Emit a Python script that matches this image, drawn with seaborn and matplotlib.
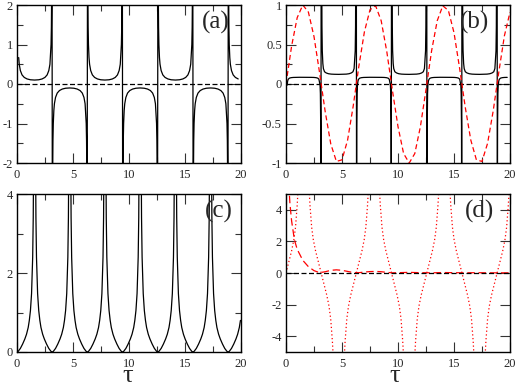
import numpy as np
import seaborn as sns
from matplotlib import pyplot as plt
from matplotlib.ticker import MultipleLocator

# ---- data ----
# singular points (multiples of pi) for panels (a) and (b)
poles_ab = [0.0, 3.14, 6.28, 9.42, 12.57, 15.71, 18.85]

# (a) one branch between two poles: offset from left pole -> |value|
a_dx = [0.02, 0.04, 0.07, 0.10, 0.15, 0.20, 0.30, 0.45, 0.65, 0.90, 1.20, 1.57,
        1.94, 2.24, 2.49, 2.69, 2.84, 2.94, 3.04, 3.07, 3.10, 3.12]
a_val = [5.0, 2.5, 1.43, 1.0, 0.67, 0.50, 0.34, 0.23, 0.166, 0.128, 0.107, 0.100,
         0.107, 0.128, 0.166, 0.23, 0.34, 0.50, 1.0, 1.43, 2.5, 5.0]
a_sign = [1, -1, 1, -1, 1, -1, 1]

# (b) black curve: lower and upper branch shapes
b_dx = a_dx
b_low = [-2.4, -0.54, -0.12, -0.015, 0.04, 0.06, 0.074, 0.08, 0.083, 0.084, 0.085, 0.085,
         0.085, 0.084, 0.083, 0.08, 0.074, 0.06, -0.015, -0.12, -0.54, -2.4]
b_up = [7.6, 2.0, 0.73, 0.42, 0.26, 0.195, 0.155, 0.14, 0.13, 0.125, 0.123, 0.122,
        0.123, 0.125, 0.13, 0.14, 0.155, 0.195, 0.42, 0.73, 2.0, 7.6]
b_kind = ["low", "up", "low", "up", "low", "up", "low"]

# (b) red dashed curve
b_red_x = [0.5 * i for i in range(41)]
b_red_y = [0.00, 0.48, 0.84, 1.00, 0.91, 0.60, 0.14, -0.35, -0.76, -0.98, -0.96,
           -0.71, -0.28, 0.22, 0.66, 0.94, 0.99, 0.80, 0.41, -0.08, -0.54, -0.88,
           -1.00, -0.88, -0.54, -0.07, 0.42, 0.80, 0.99, 0.93, 0.65, 0.20, -0.29,
           -0.71, -0.96, -0.98, -0.75, -0.34, 0.15, 0.61, 0.91]

# (c) and (d): centres of the branches
centres_cd = [0.0, 3.14, 6.28, 9.42, 12.57, 15.71, 18.85]
cd_dx = [-1.555, -1.53, -1.5, -1.45, -1.4, -1.3, -1.2, -1.1, -1.0, -0.85, -0.7, -0.5,
         -0.3, -0.1, 0.0, 0.1, 0.3, 0.5, 0.7, 0.85, 1.0, 1.1, 1.2, 1.3, 1.4, 1.45,
         1.5, 1.53, 1.555]
c_val = [26, 10, 5.8, 3.4, 2.4, 1.48, 1.05, 0.8, 0.62, 0.45, 0.33, 0.2,
         0.09, 0.015, 0.0, 0.015, 0.09, 0.2, 0.33, 0.45, 0.62, 0.8, 1.05, 1.48, 2.4, 3.4,
         5.8, 10, 26]

# (d) red dotted curve (odd shape, sign alternates)
d_dot = [-200, -100, -60, -30, -20, -11, -7.5, -5.6, -4.3, -2.9, -2.1, -1.4,
         -0.85, -0.28, 0.0, 0.28, 0.85, 1.4, 2.1, 2.9, 4.3, 5.6, 7.5, 11, 20, 30, 60, 100, 200]
d_sign = [1, -1, 1, -1, 1, -1, 1]

# (d) red dashed decaying curve
d_dash_x = [0.25, 0.35, 0.5, 0.75, 1.0, 1.5, 2.0, 2.5, 3.0, 3.5, 4.0, 4.5, 5.0, 5.5,
            6.0, 6.5, 7.0, 7.5, 8.0, 8.5, 9.0, 9.5, 10, 11, 12, 13, 14, 15, 16,
            17, 18, 19, 20]
d_dash_y = [5.6, 4.4, 3.3, 2.1, 1.5, 0.8, 0.4, 0.15, 0.02, 0.08, 0.17, 0.2, 0.17, 0.1,
            0.03, 0.02, 0.06, 0.09, 0.1, 0.08, 0.04, 0.01, 0.02, 0.04, 0.02, 0.01,
            0.03, 0.02, 0.01, 0.02, 0.01, 0.01, 0.01]


def build(starts, dx, shapes, signs, xmin, xmax):
    xs, ys = [], []
    for p, shape, s in zip(starts, shapes, signs):
        for d, v in zip(dx, shape):
            x = p + d
            if xmin <= x <= xmax:
                xs.append(x)
                ys.append(s * v)
    return xs, ys


a_x, a_y = build(poles_ab, a_dx, [a_val] * 7, a_sign, 0.15, 20)
b_shapes = [b_low if k == "low" else b_up for k in b_kind]
b_x, b_y = build(poles_ab, b_dx, b_shapes, [1] * 7, 0.1, 20)
c_x, c_y = build(centres_cd, cd_dx, [c_val] * 7, [1] * 7, 0, 20)
d_x, d_y = build(centres_cd, cd_dx, [d_dot] * 7, d_sign, 0, 20)

sns.set_style("ticks")
plt.rcParams['font.family'] = ['Liberation Serif', 'DejaVu Serif']
plt.rcParams['axes.unicode_minus'] = False

fig = plt.figure(figsize=(5.18, 3.87), dpi=100)
W, H = 518, 387


def make_axes(l, t, r, b):
    return fig.add_axes([l / W, 1 - b / H, (r - l) / W, (b - t) / H])


ax_a = make_axes(17, 5, 241, 163)
ax_b = make_axes(286, 5, 510, 163)
ax_c = make_axes(17, 194, 241, 352)
ax_d = make_axes(286, 194, 510, 352)

lw = 0.9
kw = dict(sort=False, estimator=None, lw=lw, legend=False)

# (a)
sns.lineplot(x=a_x, y=a_y, ax=ax_a, color="black", **kw)
ax_a.axhline(0, color="black", lw=lw, ls=(0, (4, 2)))
ax_a.set_ylim(-2, 2)
ax_a.yaxis.set_major_locator(MultipleLocator(1))
ax_a.yaxis.set_minor_locator(MultipleLocator(0.5))

# (b)
sns.lineplot(x=b_x, y=b_y, ax=ax_b, color="black", **kw)
ax_b.axhline(0, color="black", lw=lw, ls=(0, (4, 2)))
sns.lineplot(x=b_red_x, y=b_red_y, ax=ax_b, color="red", linestyle=(0, (4, 2.5)), **kw)
ax_b.set_ylim(-1, 1)
ax_b.yaxis.set_minor_locator(MultipleLocator(0.25))
ax_b.set_yticks([-1, -0.5, 0, 0.5, 1])
ax_b.set_yticklabels(["-1", "-0.5", "0", "0.5", "1"])

# (c)
sns.lineplot(x=c_x, y=c_y, ax=ax_c, color="black", **kw)
ax_c.set_ylim(0, 4)
ax_c.yaxis.set_major_locator(MultipleLocator(2))
ax_c.yaxis.set_minor_locator(MultipleLocator(1))

# (d)
sns.lineplot(x=d_x, y=d_y, ax=ax_d, color="red", linestyle=(0, (1, 2)), **kw)
sns.lineplot(x=d_dash_x, y=d_dash_y, ax=ax_d, color="red", linestyle=(0, (6, 3)), **kw)
ax_d.axhline(0, color="black", lw=lw, ls=(0, (4, 2)))
ax_d.set_ylim(-5, 5)
ax_d.yaxis.set_major_locator(MultipleLocator(2))

labels = {ax_a: ("(a)", 0.888), ax_b: ("(b)", 0.842), ax_c: ("(c)", 0.90), ax_d: ("(d)", 0.865)}
for ax, (lab, xf) in labels.items():
    ax.set_xlim(0, 20)
    ax.xaxis.set_major_locator(MultipleLocator(5))
    ax.xaxis.set_minor_locator(MultipleLocator(2.5))
    ax.tick_params(which="both", direction="in", top=True, right=True,
                   labelsize=9, width=0.8, color="#333333")
    ax.tick_params(which="major", length=7, pad=3)
    ax.tick_params(which="minor", length=4)
    ax.tick_params(axis="x", pad=4)
    for s in ax.spines.values():
        s.set_linewidth(1.0)
        s.set_color("black")
    ax.text(xf, 0.89, lab, transform=ax.transAxes, ha="center", va="center", fontsize=18)
    ax.set_xlabel("")
    ax.set_ylabel("")

for ax, xf in [(ax_c, 0.496), (ax_d, 0.485)]:
    ax.set_xlabel("τ", fontsize=19)
    ax.xaxis.label.set_va("baseline")
    ax.xaxis.set_label_coords(xf, -0.19)

fig.savefig("out.png", dpi=100)
